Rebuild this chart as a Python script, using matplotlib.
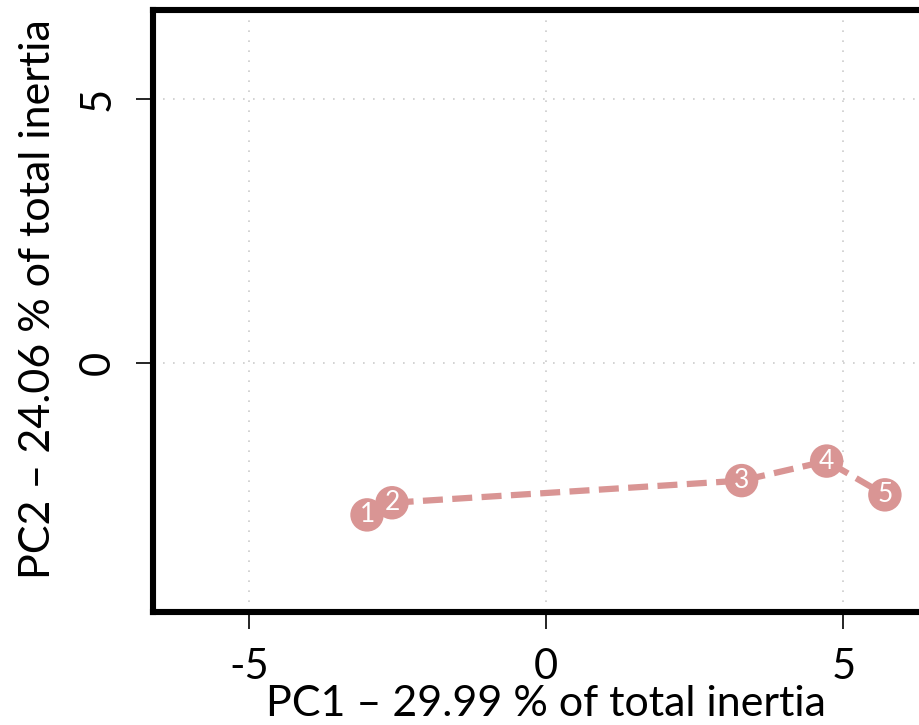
import matplotlib
matplotlib.use("Agg")
import matplotlib.pyplot as plt

# PCA individual trajectory coordinates
labels = ["1", "2", "3", "4", "5"]
pc1 = [-3.01, -2.59, 3.29, 4.72, 5.70]
pc2 = [-2.88, -2.65, -2.23, -1.86, -2.50]
xticks = [-5, 0, 5]
yticks = [-5, 0, 5]
xlabel = "PC1 \u2013 29.99 % of total inertia"
ylabel = "PC2 \u2013 24.06 % of total inertia"

color = "#D99594"
plt.rcParams["font.family"] = ["Lato", "DejaVu Sans"]

fig = plt.figure(figsize=(9.2, 7.25), dpi=100)
ax = fig.add_axes([0.1663, 0.1559, 0.855, 0.8303])

for t in xticks:
    ax.axvline(t, color="#cccccc", lw=1.2, ls=(0, (1, 5)), zorder=0)
for t in yticks:
    ax.axhline(t, color="#cccccc", lw=1.2, ls=(0, (1, 5)), zorder=0)

ax.plot(pc1, pc2, color=color, lw=4.5, ls=(0, (3.2, 1.5)), zorder=2)
ax.scatter(pc1, pc2, s=580, color=color, edgecolors="none", zorder=3)
for lab, x, y in zip(labels, pc1, pc2):
    ax.text(x, y, lab, color="white", fontsize=19, ha="center", va="center", zorder=4)

for s in ax.spines.values():
    s.set_linewidth(4.4)
ax.set_xticks(xticks)
ax.set_yticks(yticks)
ax.set_xticklabels([str(t) for t in xticks])
ax.set_yticklabels([str(t) for t in yticks], rotation=90, va="center")
ax.tick_params(axis="both", length=12, width=1.2, labelsize=30, pad=14)

# limits after the ticks so the tick positions do not widen the view
ax.set_xlim(-6.61, 6.62)
ax.set_ylim(-4.72, 6.69)

ax.set_xlabel(xlabel, fontsize=31)
ax.xaxis.label.set_va("baseline")
ax.xaxis.set_label_coords(0.4994, -0.173)
ax.set_ylabel(ylabel, fontsize=31)
ax.yaxis.label.set_va("baseline")
ax.yaxis.set_label_coords(-0.131, 0.519)

fig.savefig("out.png", dpi=100)
